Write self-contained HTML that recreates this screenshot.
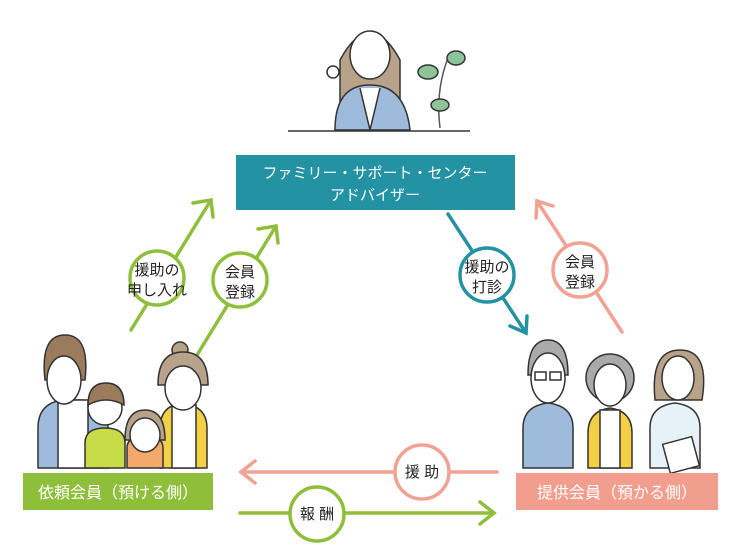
<!DOCTYPE html>
<html><head><meta charset="utf-8"><style>
body{margin:0;background:#fff;}
svg{display:block;font-family:"Liberation Sans","Noto Sans CJK JP",sans-serif;}
</style></head><body>
<svg width="740" height="550" viewBox="0 0 740 550">
<!-- advisor -->
<g stroke="#333" stroke-width="1.5">
<path d="M340 60 q30 -55 60 0 l0 45 l-60 0z" fill="#b8a28a"/>
<ellipse cx="370" cy="55" rx="20" ry="24" fill="#fff"/>
<path d="M335 130 q0 -45 35 -45 q35 0 40 45z" fill="#9fbbdc"/>
<path d="M360 88 l10 42 l10 -42" fill="#fff"/>
<circle cx="333" cy="72" r="6" fill="#fff"/>
<line x1="288" y1="131" x2="470" y2="131"/>
<path d="M440 128 q-5 -40 10 -75" fill="none" stroke="#555"/>
<ellipse cx="428" cy="72" rx="10" ry="7" fill="#8fc39a"/>
<ellipse cx="456" cy="58" rx="9" ry="7" fill="#8fc39a"/>
<ellipse cx="440" cy="105" rx="9" ry="6" fill="#8fc39a"/>
</g>
<rect x="236" y="155" width="279" height="55" fill="#2393a3"/>
<text x="375" y="178" fill="#fff" font-size="15" text-anchor="middle">ファミリー・サポート・センター</text>
<text x="375" y="200" fill="#fff" font-size="15" text-anchor="middle">アドバイザー</text>

<g fill="none" stroke-width="3.5" stroke-linecap="round">
<g stroke="#8fbe3a">
<line x1="131" y1="330" x2="211" y2="200"/><polyline points="193,203 211,200 213,217"/>
<line x1="197" y1="355" x2="276" y2="226"/><polyline points="258,229 276,226 278,243"/>
<line x1="240" y1="513" x2="494" y2="513"/><polyline points="480,502 494,513 480,524"/>
</g>
<g stroke="#2393a3">
<line x1="448" y1="214" x2="526" y2="333"/><polyline points="510,326 526,333 527,316"/>
</g>
<g stroke="#f2a193">
<line x1="622" y1="332" x2="537" y2="201"/><polyline points="553,206 537,201 536,218"/>
<line x1="497" y1="472" x2="241" y2="472"/><polyline points="255,461 241,472 255,483"/>
</g>
</g>
<g stroke-width="3.5" fill="#fff">
<circle cx="157" cy="278" r="27" stroke="#8fbe3a"/>
<circle cx="240" cy="280" r="27" stroke="#8fbe3a"/>
<circle cx="487" cy="275" r="27" stroke="#2393a3"/>
<circle cx="580" cy="270" r="27" stroke="#f2a193"/>
<circle cx="422" cy="472" r="27" stroke="#f2a193"/>
<circle cx="317" cy="514" r="27" stroke="#8fbe3a"/>
</g>
<g font-size="15" fill="#222" text-anchor="middle">
<text x="157" y="275">援助の</text><text x="157" y="295">申し入れ</text>
<text x="240" y="277">会員</text><text x="240" y="297">登録</text>
<text x="487" y="272">援助の</text><text x="487" y="292">打診</text>
<text x="580" y="267">会員</text><text x="580" y="287">登録</text>
<text x="422" y="477">援 助</text>
<text x="317" y="519">報 酬</text>
</g>

<!-- family -->
<g stroke="#333" stroke-width="1.5">
<path d="M38 468 l0 -40 q0 -25 25 -28 l20 0 q25 3 25 28 l0 40z" fill="#9fbbdc"/>
<path d="M58 400 l0 68 l30 0 l0 -68z" fill="#fff"/>
<path d="M45 380 q-5 -45 20 -45 q25 0 20 45z" fill="#9a7c5c"/>
<ellipse cx="64" cy="380" rx="17" ry="24" fill="#fff"/>
<path d="M160 468 l0 -40 q0 -22 22 -25 q25 3 25 25 l0 40z" fill="#f3d045"/>
<path d="M172 405 l0 63 l24 0 l0 -63z" fill="#fff"/>
<circle cx="180" cy="350" r="8" fill="#b8a28a"/>
<path d="M158 385 q0 -33 25 -33 q25 0 25 33z" fill="#b8a28a"/>
<ellipse cx="183" cy="388" rx="18" ry="22" fill="#fff"/>
<path d="M85 468 l0 -25 q0 -15 20 -15 q20 0 20 15 l0 25z" fill="#c8dc4a"/>
<circle cx="105" cy="408" r="17" fill="#fff"/>
<path d="M88 405 q0 -22 18 -22 q18 0 18 22 q-18 -10 -36 0z" fill="#9a7c5c"/>
<path d="M127 468 l0 -20 q0 -12 18 -12 q18 0 18 12 l0 20z" fill="#f3a96a"/>
<path d="M125 440 q0 -30 20 -30 q20 0 20 30z" fill="#b8a28a"/>
<ellipse cx="145" cy="435" rx="15" ry="17" fill="#fff"/>
</g>
<rect x="23" y="473" width="190" height="37" fill="#8fbe3a"/>
<text x="118" y="498" fill="#fff" font-size="16" text-anchor="middle">依頼会員（預ける側）</text>

<!-- providers -->
<g stroke="#333" stroke-width="1.5">
<path d="M523 468 l0 -40 q0 -22 25 -25 q25 3 25 25 l0 40z" fill="#9fbbdc"/>
<path d="M528 375 q0 -35 20 -35 q20 0 20 35z" fill="#aaa"/>
<ellipse cx="548" cy="378" rx="17" ry="25" fill="#fff"/>
<rect x="535" y="372" width="11" height="8" fill="none"/><rect x="550" y="372" width="11" height="8" fill="none"/>
<path d="M588 468 l0 -35 q0 -22 22 -25 q22 3 22 25 l0 35z" fill="#f3d045"/>
<path d="M600 410 l0 58 l20 0 l0 -58z" fill="#fff"/>
<circle cx="610" cy="378" r="24" fill="#aaa"/>
<ellipse cx="610" cy="385" rx="16" ry="21" fill="#fff"/>
<path d="M650 468 l0 -40 q0 -22 25 -25 q25 3 25 25 l0 40z" fill="#e6f1f8"/>
<path d="M655 400 q-5 -50 25 -50 q30 0 22 50z" fill="#b8a28a"/>
<ellipse cx="678" cy="378" rx="16" ry="22" fill="#fff"/>
<rect x="666" y="440" width="30" height="30" fill="#fff" transform="rotate(-15 681 455)"/>
</g>
<rect x="516" y="473" width="202" height="37" fill="#f29e8e"/>
<text x="617" y="498" fill="#fff" font-size="16" text-anchor="middle">提供会員（預かる側）</text>
</svg>
</body></html>
